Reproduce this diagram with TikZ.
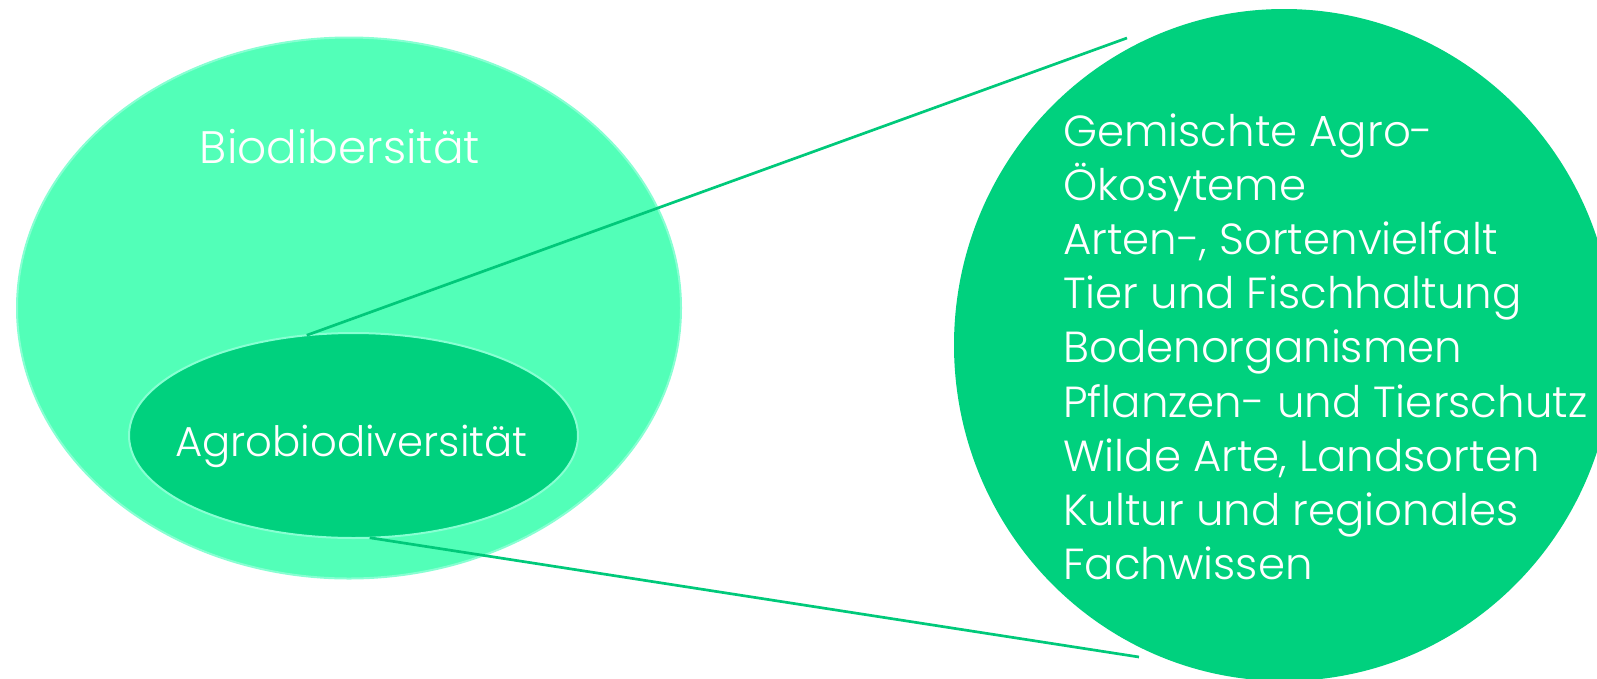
\documentclass[tikz,border=0pt]{standalone}
\usepackage{fontspec}
\setmainfont{Poppins Light}
\usetikzlibrary{shapes.geometric}
\definecolor{biofill}{RGB}{82,255,184}
\definecolor{bioedge}{RGB}{135,255,210}
\definecolor{agrofill}{RGB}{0,209,126}
\definecolor{linecol}{RGB}{0,201,122}
\tikzset{
  blob/.style={ellipse, inner sep=0pt, outer sep=0pt},
  outerblob/.style={blob, fill=biofill, draw=bioedge, line width=2pt},
  innerblob/.style={blob, fill=agrofill, draw=bioedge, line width=2pt},
  detailblob/.style={blob, fill=agrofill},
  link/.style={draw=linecol, line width=2.7pt},
  label/.style={text=white, inner sep=0pt, anchor=base},
}
\begin{document}
\begin{tikzpicture}[x=1pt, y=-1pt]
\useasboundingbox (0,0) rectangle (1597,678);
\clip (0,0) rectangle (1597,678);
\node[outerblob, minimum width=664pt, minimum height=541pt] (bio) at (349,308) {};
\node[innerblob, minimum width=449pt, minimum height=205pt] (agro) at (353.5,435.5) {};
\node[detailblob, minimum width=660pt, minimum height=672pt] (det) at (1284,345) {};
\coordinate (tr) at (1127,38);
\coordinate (br) at (1139,657);
\draw[link] (agro.115) -- (tr);
\draw[link] (agro.-81) -- (br);
\node[label, font=\fontsize{45.5}{54}\selectfont] (biolabel) at (340,163) {Biodibersität};
\node[label, font=\fontsize{41.8}{50}\selectfont] (agrolabel) at (351.5,456) {Agrobiodiversität};
\node[text=white, inner sep=0pt, anchor=base west, align=left, font=\fontsize{43.5}{54.2}\selectfont] (dettext) at (1063,579.6)
  {Gemischte Agro-\\Ökosyteme\\Arten-, Sortenvielfalt\\Tier und Fischhaltung\\Bodenorganismen\\Pflanzen- und Tierschutz\\Wilde Arte, Landsorten\\Kultur und regionales\\Fachwissen};
\end{tikzpicture}
\end{document}
